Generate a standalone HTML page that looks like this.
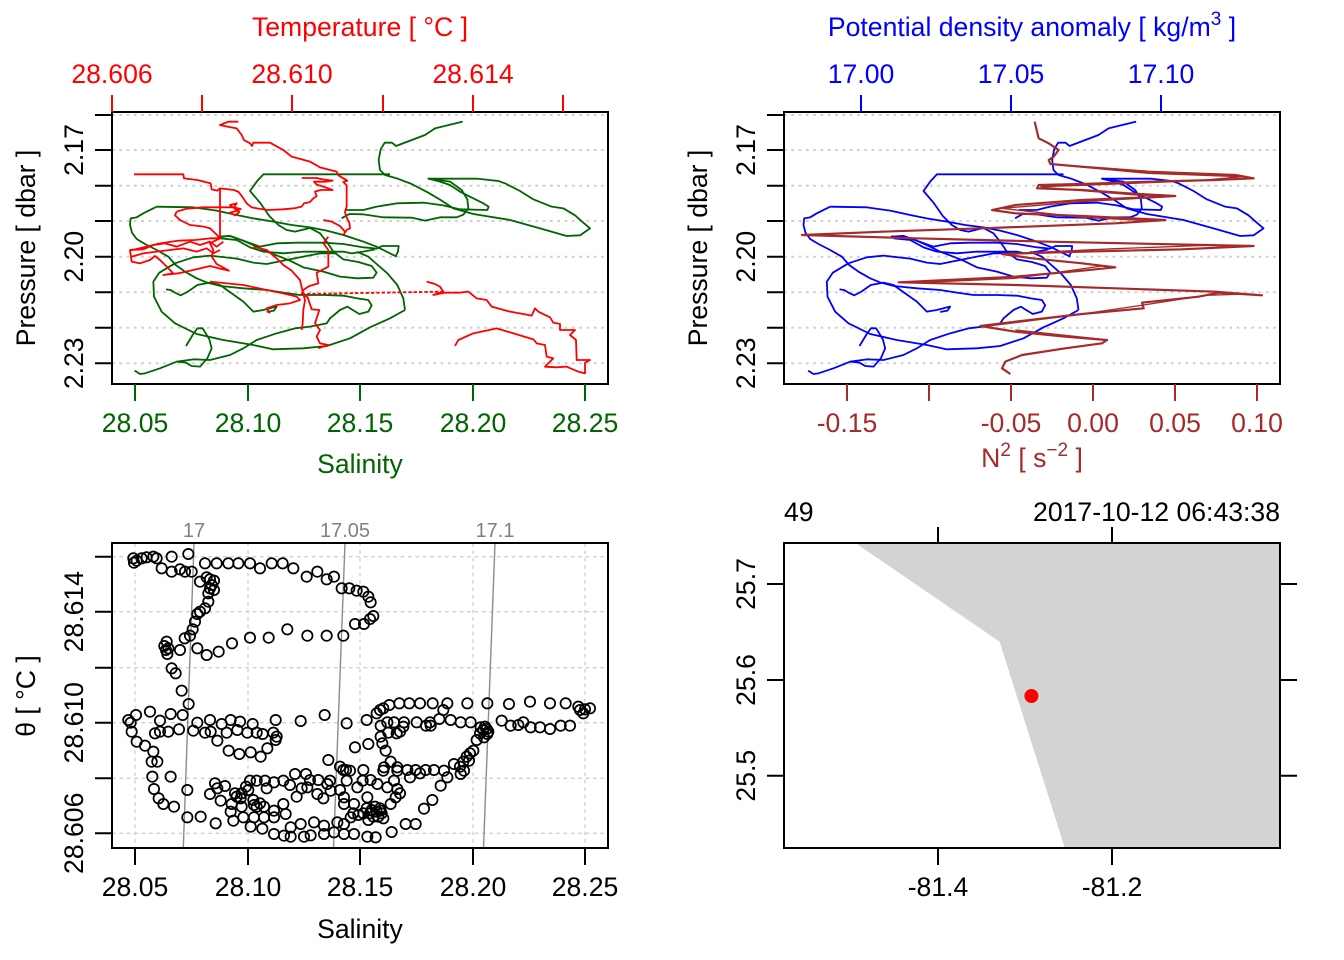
<!DOCTYPE html>
<html><head><meta charset="utf-8"><style>
html,body{margin:0;padding:0;background:#fff}
svg{display:block}
text{font-family:"Liberation Sans",Arial,sans-serif;font-size:26.6px}
</style></head><body>
<svg xmlns="http://www.w3.org/2000/svg" xmlns:xlink="http://www.w3.org/1999/xlink" width="1344" height="960" viewBox="0 0 1344 960">
<rect width="1344" height="960" fill="#fff"/>
<defs>
<g id="sal" fill="none" stroke-linejoin="round">
<path d="M1058,35 L975,55 L945,75 L858,108 L846,98 L824,98 L812,118 L806,150 L810,180 L825,195 L860,205 L905,222 L955,248 L995,272 L1030,295 L1090,312 L1200,330 L1290,355 L1370,378 L1410,376 L1440,355 L1420,338 L1395,316 L1360,295 L1325,290 L1270,268 L1230,243 L1185,220 L1165,213 L1100,206 L955,206 L1020,215 L1055,240 L1072,268 L1075,295 L1060,314 L1040,322 L990,322 L945,332 L905,323 L820,322 L760,313 L718,312 L700,322 L695,325"/>
<path d="M706,300 L760,300 L800,290 L860,280 L940,278 L1000,286 L1050,298 L1132,300 L1136,290 L1120,280 L1080,260 L1050,245 L1020,225 L990,215 L955,206"/>
<path d="M840,193 L460,193 L440,215 L420,243 L450,278 L478,318 L505,345 L530,360 L555,365 L600,354 L630,370 L650,395 L670,425 L700,448 L745,456 L785,468 L800,488 L790,503 L742,505 L690,500 L640,485 L580,472 L540,452 L510,440 L470,425 L440,410 L400,392 L360,378 L322,380"/>
<path d="M140,290 L250,292 L320,302 L380,315 L430,325 L490,335 L545,345 L600,352 L650,362 L700,375 L760,395 L800,410 L820,420 L860,440"/>
<path d="M140,290 L100,310 L80,322 L62,325 L60,345 L66,368 L80,387 L105,402 L140,420 L175,440 L197,465 L225,485 L260,505 L292,518 L332,528 L400,535 L470,540 L520,548 L570,555 L640,555 L700,557 L742,565 L775,570 L785,586 L775,605 L748,612 L728,600 L712,590 L690,600 L660,625 L650,640 L600,650 L555,655"/>
<path d="M322,380 L360,378 L400,392 L450,410 L500,400 L560,398 L640,398 L700,402 L760,412 L800,416 L816,408 L866,408 L864,425 L856,440"/>
<path d="M330,385 L380,390 L420,412 L460,425 L520,430 L580,425 L640,425 L700,425 L725,430 L760,425 L795,418"/>
<path d="M885,600 L880,565 L862,525 L832,490 L800,462 L775,440 L740,425"/>
<path d="M885,600 L840,625 L780,652 L720,685 L650,708 L580,715 L490,718 L430,705 L340,690 L260,672 L195,640 L155,605 L132,560 L130,515 L148,488 L195,460 L250,442 L300,437 L380,446 L430,458 L470,462 L520,452 L580,440 L630,430 L680,430"/>
<path d="M74,782 L90,792 L105,790 L150,775 L200,755 L250,748 L300,750 L360,735 L400,715 L440,690 L500,670 L555,655"/>
<path d="M228,708 L248,675 L262,655 L278,655 L298,688 L305,715 L292,745 L270,770 L245,768 L228,758 L200,755"/>
<path d="M168,538 L182,540 L195,548 L212,556 L232,546 L262,525 L300,518 L330,525 L362,548 L400,575 L430,605 L460,600 L487,593 L500,590 L492,602 L470,606"/>
</g>
</defs>

<!-- ================= TOP LEFT ================= -->
<g stroke="#cfcfcf" stroke-width="2" stroke-dasharray="2.7 4.6">
<line x1="112" y1="115" x2="608" y2="115"/><line x1="112" y1="150" x2="608" y2="150"/>
<line x1="112" y1="185.7" x2="608" y2="185.7"/><line x1="112" y1="221" x2="608" y2="221"/>
<line x1="112" y1="256.7" x2="608" y2="256.7"/><line x1="112" y1="292.3" x2="608" y2="292.3"/>
<line x1="112" y1="327.7" x2="608" y2="327.7"/><line x1="112" y1="363.3" x2="608" y2="363.3"/>
</g>
<g transform="translate(110,110) scale(0.33333)">
<use xlink:href="#sal" href="#sal" stroke="#006400" stroke-width="5.4"/>
<g fill="none" stroke="#ff0000" stroke-width="5.4" stroke-linejoin="round">
<path d="M385,35 L355,35 L330,45 L352,50 L380,55 L395,75 L402,90 L420,100 L426,108 L430,98 L480,98 L520,120 L545,140 L600,155 L630,172 L680,185 L685,196 L700,205 L712,212 L700,216 L710,226 L710,290 L705,305 L708,318 L718,338 L720,355 L710,360 L700,375"/>
<path d="M72,193 L220,193 L222,205 L262,210 L302,220 L305,238 L322,242 L330,235 L372,240 L386,246 L398,262 L410,280 L425,292 L445,296 L475,300 L520,298 L552,295 L575,290 L582,280 L600,276 L610,265 L620,258 L615,245 L632,240 L668,240 L640,230 L620,224 L612,215 L648,215 L668,212 L638,208 L620,204 L575,204"/>
<path d="M330,235 L330,385"/>
<path d="M200,305 L230,296 L280,292 L330,292 L372,292 L392,297 L378,303 L360,308 L375,316 L388,306 L360,285 L380,280 L372,292"/>
<path d="M200,305 L195,316 L210,330 L240,345 L282,350 L300,355 L318,372 L330,385 L300,385 L255,390 L205,392 L150,400 L110,410 L75,418 L60,420 L65,455 L90,460 L120,450 L135,438 L150,450 L170,470 L190,490 L160,495 L205,490 L250,480 L300,468 L330,476 L357,482 L320,462 L305,440 L310,420 L300,400 L330,385"/>
<path d="M60,420 L100,418 L130,405 L165,400 L200,410 L240,395 L270,405 L300,395 L320,410 L340,395"/>
<path d="M65,440 L100,430 L140,425 L180,420 L220,415 L260,425 L290,415 L310,430 L330,420"/>
<path d="M640,330 L665,335 L690,348 L705,365"/>
<path d="M655,380 L640,400 L655,420 L655,470 L640,478 L620,488 L625,520 L598,528 L580,540 L575,552 L593,562 L605,598 L628,600 L615,640 L630,660 L620,680 L630,700 L655,705 L625,715"/>
<path d="M430,410 L470,420 L500,445 L520,465 L545,482 L570,510 L578,545 L585,570 L580,600 L578,640 L575,660"/>
<path d="M300,515 L400,525 L470,540 L520,550 L560,560 L570,570 L540,580 L500,585 L470,595 L480,610"/>
<path d="M575,552 L1000,545" stroke-dasharray="10 6"/>
<path d="M950,515 L975,522 L990,530 L1000,545 L970,555 L1005,548 L1050,548 L1075,545 L1100,565 L1130,570 L1145,590 L1200,605 L1240,612 L1265,617 L1275,595 L1285,605 L1320,622 L1330,638 L1350,642 L1350,660 L1395,660 L1380,675 L1398,690 L1400,750 L1440,750 L1425,758 L1425,790 L1405,785 L1370,770 L1340,772 L1305,770 L1330,745 L1310,740 L1305,705 L1280,700 L1270,688 L1160,655 L1090,670 L1045,690 L1035,708"/>
</g>
</g>
<rect x="112" y="112" width="496" height="272" fill="none" stroke="#000" stroke-width="2"/>
<g stroke="#000" stroke-width="2">
<line x1="95" y1="115" x2="112" y2="115"/><line x1="95" y1="150" x2="112" y2="150"/>
<line x1="95" y1="185.7" x2="112" y2="185.7"/><line x1="95" y1="221" x2="112" y2="221"/>
<line x1="95" y1="256.7" x2="112" y2="256.7"/><line x1="95" y1="292.3" x2="112" y2="292.3"/>
<line x1="95" y1="327.7" x2="112" y2="327.7"/><line x1="95" y1="363.3" x2="112" y2="363.3"/>
</g>
<g stroke="#006400" stroke-width="2">
<line x1="135" y1="384" x2="135" y2="401"/><line x1="248" y1="384" x2="248" y2="401"/>
<line x1="360" y1="384" x2="360" y2="401"/><line x1="473" y1="384" x2="473" y2="401"/>
<line x1="585" y1="384" x2="585" y2="401"/>
</g>
<g stroke="#ff0000" stroke-width="2">
<line x1="112" y1="95" x2="112" y2="112"/><line x1="202" y1="95" x2="202" y2="112"/>
<line x1="292" y1="95" x2="292" y2="112"/><line x1="383" y1="95" x2="383" y2="112"/>
<line x1="473" y1="95" x2="473" y2="112"/><line x1="563" y1="95" x2="563" y2="112"/>
</g>
<g text-anchor="middle">
<text transform="translate(83,150) rotate(-90)">2.17</text>
<text transform="translate(83,256.7) rotate(-90)">2.20</text>
<text transform="translate(83,363.3) rotate(-90)">2.23</text>
<text transform="translate(35,248) rotate(-90)">Pressure [ dbar ]</text>
<g fill="#006400">
<text x="135" y="432">28.05</text><text x="248" y="432">28.10</text><text x="360" y="432">28.15</text>
<text x="473" y="432">28.20</text><text x="585" y="432">28.25</text>
<text x="360" y="473">Salinity</text>
</g>
<g fill="#ff0000">
<text x="112" y="83">28.606</text><text x="292" y="83">28.610</text><text x="473" y="83">28.614</text>
<text x="360" y="36">Temperature [ °C ]</text>
</g>
</g>

<!-- ================= TOP RIGHT ================= -->
<g stroke="#cfcfcf" stroke-width="2" stroke-dasharray="2.7 4.6">
<line x1="784" y1="115" x2="1280" y2="115"/><line x1="784" y1="150" x2="1280" y2="150"/>
<line x1="784" y1="185.7" x2="1280" y2="185.7"/><line x1="784" y1="221" x2="1280" y2="221"/>
<line x1="784" y1="256.7" x2="1280" y2="256.7"/><line x1="784" y1="292.3" x2="1280" y2="292.3"/>
<line x1="784" y1="327.7" x2="1280" y2="327.7"/><line x1="784" y1="363.3" x2="1280" y2="363.3"/>
</g>
<g transform="translate(783.5,110) scale(0.33333)">
<use xlink:href="#sal" href="#sal" stroke="#0000ff" stroke-width="5.4"/>
</g>
<g transform="translate(782,110) scale(0.33333)" fill="none" stroke="#a52a2a" stroke-width="6.5" stroke-linejoin="round">
<path d="M758,35 L770,85 L800,100 L830,120 L815,140 L800,150 L805,162 L900,170 L1100,185 L1360,195 L1415,205 L1300,210 L1100,215 L900,222 L770,225 L765,235 L900,240 L1040,250 L1180,258 L1100,262 L900,270 L700,285 L630,300 L700,310 L900,318 L1050,325 L1150,330 L1000,340 L600,355 L300,365 L60,375 L400,385 L800,395 L1415,408 L1200,418 L900,425 L660,432 L750,445 L900,460 L1000,472 L900,482 L700,500 L350,517 L700,525 L1000,535 L1300,545 L1440,556 L1310,548 L1250,560 L1080,578 L1085,595 L900,612 L700,635 L595,648 L700,665 L850,680 L975,690 L960,700 L850,715 L720,735 L670,755 L660,775 L685,792"/>
<path d="M830,165 L1100,190 L1380,200 L1250,212 L900,226 L775,230 M780,232 L1050,254 L1160,260 L900,275 L660,295 L900,322 L1120,333 M1300,405 L1000,416 L700,430 M960,468 L700,505 L400,518 M1400,552 L1270,556 L1085,585 L880,615 L620,648 M700,660 L960,688" stroke-width="4"/>
</g>
<rect x="784" y="112" width="496" height="272" fill="none" stroke="#000" stroke-width="2"/>
<g stroke="#000" stroke-width="2">
<line x1="767" y1="115" x2="784" y2="115"/><line x1="767" y1="150" x2="784" y2="150"/>
<line x1="767" y1="185.7" x2="784" y2="185.7"/><line x1="767" y1="221" x2="784" y2="221"/>
<line x1="767" y1="256.7" x2="784" y2="256.7"/><line x1="767" y1="292.3" x2="784" y2="292.3"/>
<line x1="767" y1="327.7" x2="784" y2="327.7"/><line x1="767" y1="363.3" x2="784" y2="363.3"/>
</g>
<g stroke="#0000ff" stroke-width="2">
<line x1="861" y1="95" x2="861" y2="112"/><line x1="1011" y1="95" x2="1011" y2="112"/><line x1="1161" y1="95" x2="1161" y2="112"/>
</g>
<g stroke="#a52a2a" stroke-width="2">
<line x1="847" y1="384" x2="847" y2="401"/><line x1="929" y1="384" x2="929" y2="401"/>
<line x1="1011" y1="384" x2="1011" y2="401"/><line x1="1093" y1="384" x2="1093" y2="401"/>
<line x1="1175" y1="384" x2="1175" y2="401"/><line x1="1257" y1="384" x2="1257" y2="401"/>
</g>
<g text-anchor="middle">
<text transform="translate(755,150) rotate(-90)">2.17</text>
<text transform="translate(755,256.7) rotate(-90)">2.20</text>
<text transform="translate(755,363.3) rotate(-90)">2.23</text>
<text transform="translate(707,248) rotate(-90)">Pressure [ dbar ]</text>
<g fill="#0000ff">
<text x="861" y="83">17.00</text><text x="1011" y="83">17.05</text><text x="1161" y="83">17.10</text>
<text x="1032" y="36">Potential density anomaly [ kg/m<tspan dy="-11" font-size="19">3</tspan><tspan dy="11"> ]</tspan></text>
</g>
<g fill="#a52a2a">
<text x="847" y="432">-0.15</text><text x="1011" y="432">-0.05</text><text x="1093" y="432">0.00</text>
<text x="1175" y="432">0.05</text><text x="1257" y="432">0.10</text>
<text x="1032" y="467">N<tspan dy="-11" font-size="19">2</tspan><tspan dy="11"> [ s</tspan><tspan dy="-11" font-size="19">−2</tspan><tspan dy="11"> ]</tspan></text>
</g>
</g>

<!-- ================= BOTTOM LEFT ================= -->
<g stroke="#cfcfcf" stroke-width="1.3" stroke-dasharray="3.7 3.7">
<line x1="135" y1="543" x2="135" y2="848"/><line x1="248" y1="543" x2="248" y2="848"/>
<line x1="360" y1="543" x2="360" y2="848"/><line x1="473" y1="543" x2="473" y2="848"/>
<line x1="585" y1="543" x2="585" y2="848"/>
<line x1="112" y1="556.7" x2="608" y2="556.7"/><line x1="112" y1="611.7" x2="608" y2="611.7"/>
<line x1="112" y1="667.7" x2="608" y2="667.7"/><line x1="112" y1="722.7" x2="608" y2="722.7"/>
<line x1="112" y1="778.3" x2="608" y2="778.3"/><line x1="112" y1="833.3" x2="608" y2="833.3"/>
</g>
<g stroke="#8c8c8c" stroke-width="1.4">
<line x1="194" y1="543" x2="183.3" y2="848"/>
<line x1="345" y1="543" x2="333.5" y2="848"/>
<line x1="495" y1="543" x2="483.5" y2="848"/>
</g>
<g fill="#808080" text-anchor="middle">
<text x="194" y="537" style="font-size:20px">17</text>
<text x="345" y="537" style="font-size:20px">17.05</text>
<text x="495" y="537" style="font-size:20px">17.1</text>
</g>
<g transform="translate(110,540) scale(0.33333)" fill="none" stroke="#000" stroke-width="5.2">
<circle cx="70" cy="55" r="15.5"/><circle cx="72" cy="68" r="15.5"/><circle cx="80" cy="62" r="15.5"/><circle cx="95" cy="55" r="15.5"/><circle cx="110" cy="52" r="15.5"/><circle cx="130" cy="50" r="15.5"/><circle cx="140" cy="55" r="15.5"/><circle cx="185" cy="50" r="15.5"/><circle cx="235" cy="42" r="15.5"/>
<circle cx="155" cy="85" r="15.5"/><circle cx="185" cy="95" r="15.5"/><circle cx="210" cy="88" r="15.5"/><circle cx="225" cy="95" r="15.5"/><circle cx="245" cy="95" r="15.5"/>
<circle cx="285" cy="70" r="15.5"/><circle cx="320" cy="70" r="15.5"/><circle cx="355" cy="70" r="15.5"/><circle cx="385" cy="70" r="15.5"/><circle cx="420" cy="70" r="15.5"/><circle cx="450" cy="85" r="15.5"/><circle cx="485" cy="70" r="15.5"/><circle cx="518" cy="70" r="15.5"/><circle cx="550" cy="85" r="15.5"/><circle cx="590" cy="110" r="15.5"/><circle cx="622" cy="95" r="15.5"/><circle cx="650" cy="118" r="15.5"/><circle cx="672" cy="110" r="15.5"/><circle cx="695" cy="145" r="15.5"/><circle cx="718" cy="145" r="15.5"/><circle cx="740" cy="152" r="15.5"/><circle cx="760" cy="155" r="15.5"/><circle cx="775" cy="170" r="15.5"/><circle cx="782" cy="187" r="15.5"/>
<circle cx="270" cy="125" r="15.5"/><circle cx="290" cy="112" r="15.5"/><circle cx="300" cy="118" r="15.5"/><circle cx="312" cy="122" r="15.5"/><circle cx="305" cy="135" r="15.5"/><circle cx="300" cy="145" r="15.5"/><circle cx="312" cy="150" r="15.5"/><circle cx="295" cy="160" r="15.5"/><circle cx="295" cy="185" r="15.5"/><circle cx="285" cy="205" r="15.5"/><circle cx="270" cy="215" r="15.5"/><circle cx="262" cy="222" r="15.5"/><circle cx="255" cy="245" r="15.5"/>
<circle cx="790" cy="228" r="15.5"/><circle cx="780" cy="237" r="15.5"/><circle cx="762" cy="252" r="15.5"/><circle cx="735" cy="252" r="15.5"/><circle cx="700" cy="287" r="15.5"/><circle cx="650" cy="287" r="15.5"/><circle cx="592" cy="287" r="15.5"/><circle cx="532" cy="268" r="15.5"/><circle cx="476" cy="293" r="15.5"/><circle cx="420" cy="293" r="15.5"/><circle cx="366" cy="310" r="15.5"/><circle cx="326" cy="335" r="15.5"/><circle cx="290" cy="345" r="15.5"/><circle cx="262" cy="325" r="15.5"/><circle cx="240" cy="287" r="15.5"/><circle cx="224" cy="295" r="15.5"/><circle cx="210" cy="330" r="15.5"/><circle cx="170" cy="305" r="15.5"/><circle cx="163" cy="318" r="15.5"/><circle cx="168" cy="330" r="15.5"/><circle cx="172" cy="342" r="15.5"/><circle cx="185" cy="385" r="15.5"/><circle cx="197" cy="400" r="15.5"/><circle cx="215" cy="452" r="15.5"/><circle cx="236" cy="492" r="15.5"/><circle cx="175" cy="325" r="15.5"/><circle cx="248" cy="268" r="15.5"/>
<circle cx="55" cy="540" r="15.5"/><circle cx="62" cy="548" r="15.5"/><circle cx="78" cy="525" r="15.5"/><circle cx="120" cy="515" r="15.5"/><circle cx="150" cy="542" r="15.5"/><circle cx="182" cy="522" r="15.5"/><circle cx="218" cy="525" r="15.5"/><circle cx="262" cy="548" r="15.5"/><circle cx="300" cy="540" r="15.5"/><circle cx="335" cy="552" r="15.5"/><circle cx="362" cy="540" r="15.5"/><circle cx="390" cy="545" r="15.5"/><circle cx="428" cy="552" r="15.5"/><circle cx="497" cy="540" r="15.5"/><circle cx="572" cy="543" r="15.5"/><circle cx="644" cy="525" r="15.5"/><circle cx="710" cy="550" r="15.5"/><circle cx="770" cy="540" r="15.5"/>
<circle cx="65" cy="575" r="15.5"/><circle cx="135" cy="580" r="15.5"/><circle cx="150" cy="575" r="15.5"/><circle cx="175" cy="575" r="15.5"/><circle cx="207" cy="568" r="15.5"/><circle cx="250" cy="572" r="15.5"/><circle cx="285" cy="578" r="15.5"/><circle cx="302" cy="575" r="15.5"/><circle cx="322" cy="602" r="15.5"/><circle cx="350" cy="578" r="15.5"/><circle cx="382" cy="570" r="15.5"/><circle cx="412" cy="578" r="15.5"/><circle cx="440" cy="578" r="15.5"/><circle cx="458" cy="582" r="15.5"/><circle cx="490" cy="578" r="15.5"/><circle cx="500" cy="590" r="15.5"/><circle cx="497" cy="600" r="15.5"/><circle cx="472" cy="625" r="15.5"/><circle cx="452" cy="650" r="15.5"/><circle cx="422" cy="637" r="15.5"/><circle cx="388" cy="642" r="15.5"/><circle cx="356" cy="632" r="15.5"/>
<circle cx="80" cy="605" r="15.5"/><circle cx="105" cy="617" r="15.5"/><circle cx="130" cy="635" r="15.5"/><circle cx="125" cy="665" r="15.5"/><circle cx="142" cy="665" r="15.5"/><circle cx="127" cy="710" r="15.5"/><circle cx="182" cy="710" r="15.5"/><circle cx="132" cy="747" r="15.5"/><circle cx="146" cy="775" r="15.5"/><circle cx="160" cy="792" r="15.5"/><circle cx="192" cy="800" r="15.5"/><circle cx="232" cy="832" r="15.5"/><circle cx="272" cy="830" r="15.5"/><circle cx="317" cy="850" r="15.5"/><circle cx="232" cy="750" r="15.5"/>
<circle cx="315" cy="730" r="15.5"/><circle cx="322" cy="745" r="15.5"/><circle cx="345" cy="738" r="15.5"/><circle cx="375" cy="760" r="15.5"/><circle cx="392" cy="775" r="15.5"/><circle cx="408" cy="740" r="15.5"/><circle cx="420" cy="722" r="15.5"/><circle cx="440" cy="722" r="15.5"/><circle cx="465" cy="722" r="15.5"/><circle cx="492" cy="727" r="15.5"/><circle cx="520" cy="722" r="15.5"/><circle cx="555" cy="702" r="15.5"/><circle cx="588" cy="702" r="15.5"/><circle cx="625" cy="720" r="15.5"/><circle cx="660" cy="722" r="15.5"/><circle cx="700" cy="690" r="15.5"/><circle cx="720" cy="692" r="15.5"/><circle cx="760" cy="690" r="15.5"/><circle cx="782" cy="720" r="15.5"/><circle cx="820" cy="692" r="15.5"/><circle cx="758" cy="722" r="15.5"/><circle cx="710" cy="722" r="15.5"/><circle cx="690" cy="750" r="15.5"/>
<circle cx="300" cy="762" r="15.5"/><circle cx="332" cy="782" r="15.5"/><circle cx="365" cy="792" r="15.5"/><circle cx="395" cy="800" r="15.5"/><circle cx="432" cy="795" r="15.5"/><circle cx="462" cy="800" r="15.5"/><circle cx="492" cy="812" r="15.5"/><circle cx="520" cy="792" r="15.5"/><circle cx="527" cy="822" r="15.5"/><circle cx="492" cy="832" r="15.5"/><circle cx="462" cy="832" r="15.5"/><circle cx="432" cy="832" r="15.5"/><circle cx="400" cy="832" r="15.5"/><circle cx="362" cy="815" r="15.5"/><circle cx="370" cy="842" r="15.5"/><circle cx="422" cy="860" r="15.5"/><circle cx="457" cy="866" r="15.5"/><circle cx="492" cy="882" r="15.5"/><circle cx="522" cy="887" r="15.5"/><circle cx="542" cy="890" r="15.5"/><circle cx="582" cy="890" r="15.5"/><circle cx="602" cy="886" r="15.5"/><circle cx="642" cy="882" r="15.5"/><circle cx="672" cy="877" r="15.5"/><circle cx="702" cy="882" r="15.5"/><circle cx="732" cy="882" r="15.5"/><circle cx="772" cy="890" r="15.5"/><circle cx="797" cy="892" r="15.5"/><circle cx="722" cy="832" r="15.5"/><circle cx="702" cy="852" r="15.5"/><circle cx="682" cy="847" r="15.5"/><circle cx="642" cy="857" r="15.5"/><circle cx="612" cy="847" r="15.5"/><circle cx="572" cy="852" r="15.5"/><circle cx="542" cy="862" r="15.5"/>
<circle cx="592" cy="742" r="15.5"/><circle cx="622" cy="762" r="15.5"/><circle cx="662" cy="752" r="15.5"/><circle cx="702" cy="772" r="15.5"/><circle cx="742" cy="742" r="15.5"/><circle cx="772" cy="772" r="15.5"/><circle cx="732" cy="792" r="15.5"/><circle cx="702" cy="792" r="15.5"/><circle cx="802" cy="732" r="15.5"/><circle cx="832" cy="742" r="15.5"/><circle cx="652" cy="732" r="15.5"/><circle cx="380" cy="770" r="15.5"/><circle cx="395" cy="760" r="15.5"/><circle cx="415" cy="750" r="15.5"/><circle cx="430" cy="780" r="15.5"/><circle cx="450" cy="790" r="15.5"/><circle cx="440" cy="800" r="15.5"/><circle cx="540" cy="735" r="15.5"/><circle cx="470" cy="745" r="15.5"/><circle cx="560" cy="770" r="15.5"/><circle cx="600" cy="720" r="15.5"/><circle cx="575" cy="745" r="15.5"/><circle cx="640" cy="775" r="15.5"/>
<circle cx="770" cy="805" r="15.5"/><circle cx="785" cy="810" r="15.5"/><circle cx="800" cy="815" r="15.5"/><circle cx="815" cy="820" r="15.5"/><circle cx="790" cy="830" r="15.5"/><circle cx="805" cy="830" r="15.5"/><circle cx="780" cy="820" r="15.5"/><circle cx="795" cy="800" r="15.5"/><circle cx="810" cy="805" r="15.5"/><circle cx="820" cy="835" r="15.5"/><circle cx="760" cy="820" r="15.5"/><circle cx="745" cy="825" r="15.5"/><circle cx="730" cy="820" r="15.5"/><circle cx="775" cy="840" r="15.5"/>
<circle cx="735" cy="622" r="15.5"/><circle cx="775" cy="612" r="15.5"/><circle cx="655" cy="660" r="15.5"/><circle cx="690" cy="680" r="15.5"/><circle cx="708" cy="690" r="15.5"/>
<circle cx="820" cy="505" r="15.5"/><circle cx="838" cy="495" r="15.5"/><circle cx="868" cy="490" r="15.5"/><circle cx="898" cy="490" r="15.5"/><circle cx="930" cy="490" r="15.5"/><circle cx="968" cy="490" r="15.5"/><circle cx="1012" cy="490" r="15.5"/><circle cx="1072" cy="490" r="15.5"/><circle cx="1132" cy="490" r="15.5"/><circle cx="1197" cy="492" r="15.5"/><circle cx="1260" cy="485" r="15.5"/><circle cx="1320" cy="490" r="15.5"/><circle cx="1367" cy="490" r="15.5"/><circle cx="1405" cy="500" r="15.5"/><circle cx="1425" cy="508" r="15.5"/><circle cx="1440" cy="505" r="15.5"/><circle cx="1420" cy="520" r="15.5"/><circle cx="1410" cy="510" r="15.5"/>
<circle cx="1380" cy="557" r="15.5"/><circle cx="1352" cy="557" r="15.5"/><circle cx="1320" cy="567" r="15.5"/><circle cx="1290" cy="562" r="15.5"/><circle cx="1262" cy="562" r="15.5"/><circle cx="1240" cy="547" r="15.5"/><circle cx="1202" cy="557" r="15.5"/><circle cx="1175" cy="542" r="15.5"/><circle cx="1130" cy="567" r="15.5"/><circle cx="1132" cy="582" r="15.5"/><circle cx="1122" cy="592" r="15.5"/><circle cx="1112" cy="562" r="15.5"/><circle cx="1082" cy="547" r="15.5"/><circle cx="1052" cy="547" r="15.5"/><circle cx="1022" cy="540" r="15.5"/><circle cx="988" cy="537" r="15.5"/><circle cx="960" cy="547" r="15.5"/><circle cx="948" cy="557" r="15.5"/><circle cx="962" cy="557" r="15.5"/><circle cx="920" cy="547" r="15.5"/><circle cx="882" cy="547" r="15.5"/><circle cx="852" cy="547" r="15.5"/><circle cx="832" cy="547" r="15.5"/><circle cx="812" cy="557" r="15.5"/><circle cx="800" cy="520" r="15.5"/><circle cx="810" cy="510" r="15.5"/><circle cx="1000" cy="510" r="15.5"/><circle cx="1225" cy="555" r="15.5"/>
<circle cx="812" cy="590" r="15.5"/><circle cx="817" cy="610" r="15.5"/><circle cx="827" cy="632" r="15.5"/><circle cx="842" cy="665" r="15.5"/><circle cx="862" cy="692" r="15.5"/><circle cx="852" cy="722" r="15.5"/><circle cx="862" cy="747" r="15.5"/><circle cx="857" cy="772" r="15.5"/><circle cx="842" cy="792" r="15.5"/><circle cx="812" cy="812" r="15.5"/>
<circle cx="1090" cy="632" r="15.5"/><circle cx="1077" cy="662" r="15.5"/><circle cx="1062" cy="692" r="15.5"/><circle cx="1052" cy="702" r="15.5"/><circle cx="1032" cy="672" r="15.5"/><circle cx="1002" cy="692" r="15.5"/><circle cx="972" cy="690" r="15.5"/><circle cx="947" cy="690" r="15.5"/><circle cx="917" cy="690" r="15.5"/><circle cx="892" cy="690" r="15.5"/><circle cx="862" cy="682" r="15.5"/><circle cx="822" cy="682" r="15.5"/><circle cx="870" cy="760" r="15.5"/>
<circle cx="1012" cy="712" r="15.5"/><circle cx="992" cy="737" r="15.5"/><circle cx="967" cy="780" r="15.5"/><circle cx="942" cy="806" r="15.5"/><circle cx="917" cy="852" r="15.5"/><circle cx="887" cy="852" r="15.5"/><circle cx="845" cy="876" r="15.5"/>
<circle cx="1100" cy="600" r="15.5"/><circle cx="1110" cy="580" r="15.5"/><circle cx="1125" cy="560" r="15.5"/><circle cx="1135" cy="575" r="15.5"/><circle cx="1120" cy="570" r="15.5"/>
<circle cx="880" cy="560" r="15.5"/><circle cx="860" cy="580" r="15.5"/><circle cx="835" cy="578" r="15.5"/><circle cx="870" cy="575" r="15.5"/><circle cx="1050" cy="680" r="15.5"/><circle cx="1060" cy="665" r="15.5"/><circle cx="1070" cy="650" r="15.5"/><circle cx="1080" cy="640" r="15.5"/><circle cx="930" cy="700" r="15.5"/><circle cx="900" cy="712" r="15.5"/>
</g>
<rect x="112" y="543" width="496" height="305" fill="none" stroke="#000" stroke-width="2"/>
<g stroke="#000" stroke-width="2">
<line x1="95" y1="556.7" x2="112" y2="556.7"/><line x1="95" y1="611.7" x2="112" y2="611.7"/>
<line x1="95" y1="667.7" x2="112" y2="667.7"/><line x1="95" y1="722.7" x2="112" y2="722.7"/>
<line x1="95" y1="778.3" x2="112" y2="778.3"/><line x1="95" y1="833.3" x2="112" y2="833.3"/>
<line x1="135" y1="848" x2="135" y2="865"/><line x1="248" y1="848" x2="248" y2="865"/>
<line x1="360" y1="848" x2="360" y2="865"/><line x1="473" y1="848" x2="473" y2="865"/>
<line x1="585" y1="848" x2="585" y2="865"/>
</g>
<g text-anchor="middle">
<text transform="translate(83,611.7) rotate(-90)">28.614</text>
<text transform="translate(83,722.7) rotate(-90)">28.610</text>
<text transform="translate(83,833.3) rotate(-90)">28.606</text>
<text transform="translate(35,696) rotate(-90)">θ [ °C ]</text>
<text x="135" y="896">28.05</text><text x="248" y="896">28.10</text><text x="360" y="896">28.15</text>
<text x="473" y="896">28.20</text><text x="585" y="896">28.25</text>
<text x="360" y="938">Salinity</text>
</g>

<!-- ================= BOTTOM RIGHT ================= -->
<polygon points="855.4,543 999.6,641.7 1064.8,848 1280,848 1280,543" fill="#d3d3d3"/>
<circle cx="1031.4" cy="696" r="7" fill="#ff0000"/>
<rect x="784" y="543" width="496" height="305" fill="none" stroke="#000" stroke-width="2"/>
<g stroke="#000" stroke-width="2">
<line x1="938" y1="527" x2="938" y2="543"/><line x1="1112" y1="527" x2="1112" y2="543"/>
<line x1="938" y1="848" x2="938" y2="865"/><line x1="1112" y1="848" x2="1112" y2="865"/>
<line x1="767" y1="584" x2="784" y2="584"/><line x1="767" y1="680" x2="784" y2="680"/><line x1="767" y1="775.7" x2="784" y2="775.7"/>
<line x1="1280" y1="584" x2="1297" y2="584"/><line x1="1280" y1="680" x2="1297" y2="680"/><line x1="1280" y1="775.7" x2="1297" y2="775.7"/>
</g>
<g text-anchor="middle">
<text x="938" y="896">-81.4</text><text x="1112" y="896">-81.2</text>
<text transform="translate(755,584) rotate(-90)">25.7</text>
<text transform="translate(755,680) rotate(-90)">25.6</text>
<text transform="translate(755,775.7) rotate(-90)">25.5</text>
</g>
<text x="784" y="521">49</text>
<text x="1280" y="521" text-anchor="end">2017-10-12 06:43:38</text>
</svg>
</body></html>
